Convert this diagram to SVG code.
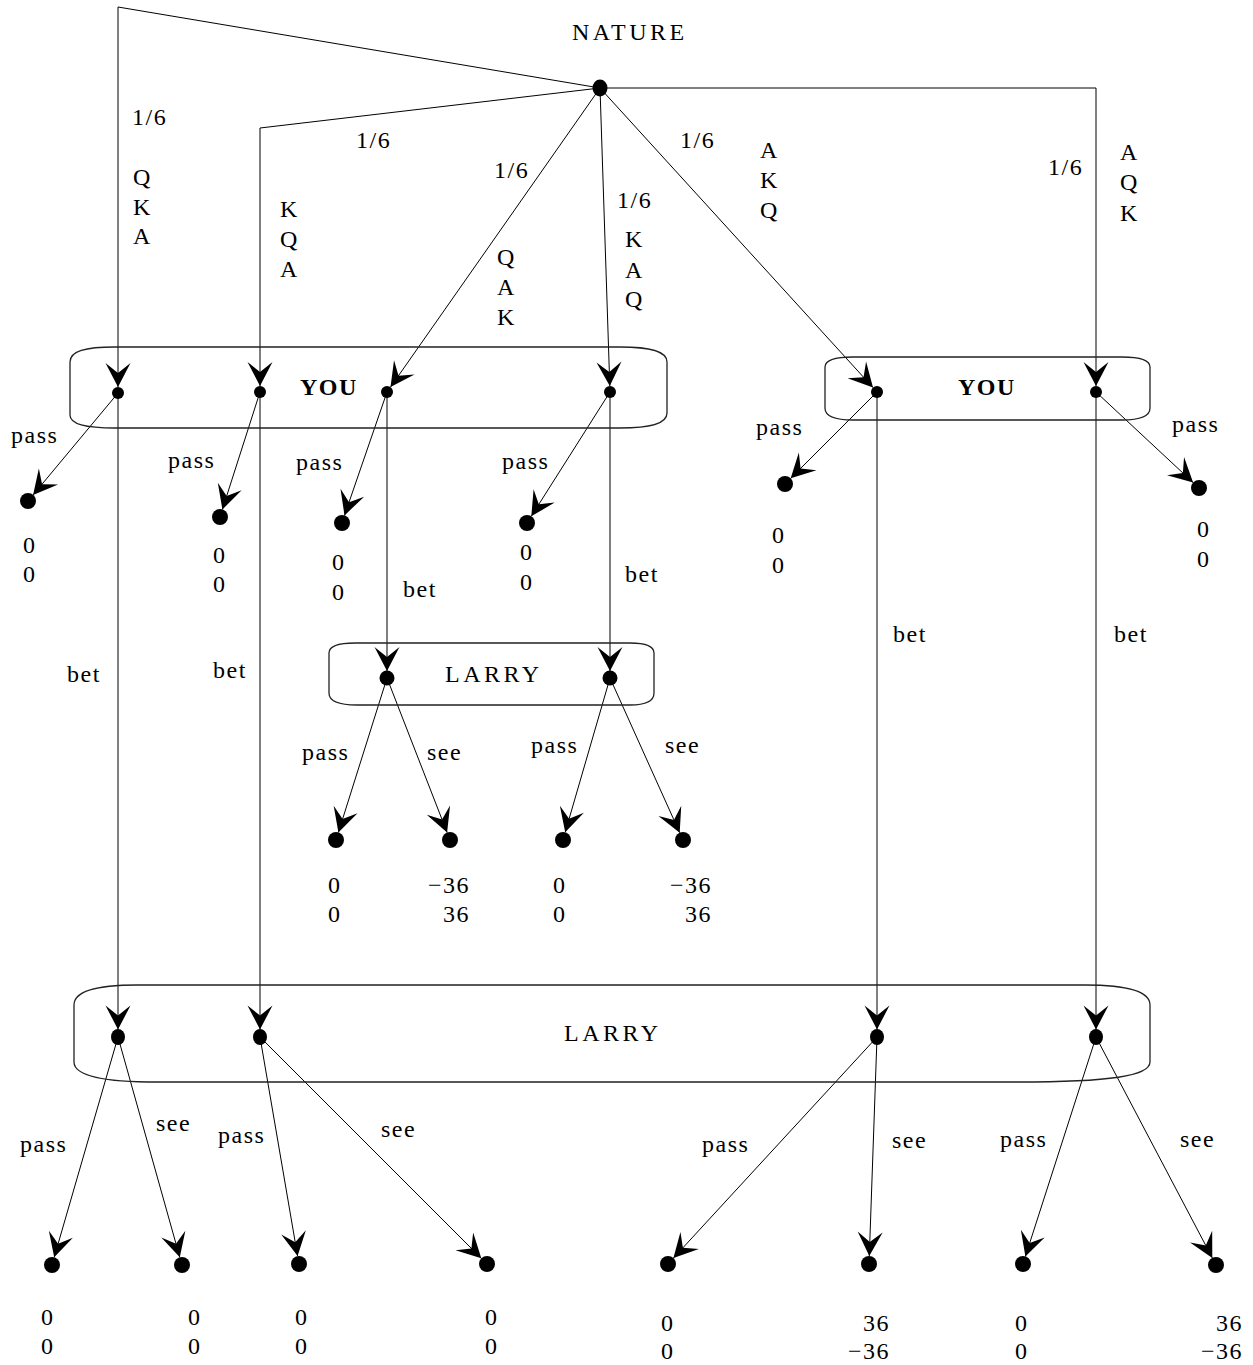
<svg xmlns="http://www.w3.org/2000/svg" width="1253" height="1365" viewBox="0 0 1253 1365">
<style>
  text { font-family: "Liberation Serif", "Times New Roman", serif; font-size: 24px; letter-spacing: 1.5px; fill: #000; }
  .b { font-weight: bold; }
  .w { letter-spacing: 3.5px; }
  .e { text-anchor: end; }
  .c { fill: none; stroke: #000; stroke-width: 1; marker-end: url(#arr); }
  .box { fill: none; stroke: #222; stroke-width: 1.3; }
  .dot { fill: #000; }
</style>
<defs>
  <marker id="arr" markerUnits="userSpaceOnUse" markerWidth="28" markerHeight="28" viewBox="-26 -14 28 28" refX="0" refY="0" orient="auto">
    <path d="M0,0 L-24,-12.5 L-14,0 L-24,12.5 Z" fill="#000"/>
  </marker>
</defs>
<rect width="1253" height="1365" fill="#fff"/>

<g id="connectors">
  <!-- nature moves -->
  <polyline class="c" points="600,88 118,7 118,387"/>
  <polyline class="c" points="600,88 260,128 260,386"/>
  <line class="c" x1="600" y1="88" x2="390.5" y2="387.1"/>
  <line class="c" x1="600" y1="88" x2="609.8" y2="386"/>
  <line class="c" x1="600" y1="88" x2="873" y2="387.6"/>
  <polyline class="c" points="600,88 1096,88 1096,386"/>
  <!-- YOU pass -->
  <line class="c" x1="118" y1="393" x2="33.1" y2="494.9"/>
  <line class="c" x1="260" y1="392" x2="222.4" y2="509.4"/>
  <line class="c" x1="387" y1="392" x2="344.5" y2="515.4"/>
  <line class="c" x1="610" y1="392" x2="531.3" y2="516.2"/>
  <line class="c" x1="877" y1="392" x2="790.7" y2="478.3"/>
  <line class="c" x1="1096" y1="392" x2="1193.1" y2="482.5"/>
  <!-- YOU bet -->
  <line class="c" x1="118" y1="393" x2="118" y2="1029.5"/>
  <line class="c" x1="260" y1="392" x2="260" y2="1029.5"/>
  <line class="c" x1="387" y1="392" x2="387" y2="671"/>
  <line class="c" x1="610" y1="392" x2="610" y2="671"/>
  <line class="c" x1="877" y1="392" x2="877" y2="1029.5"/>
  <line class="c" x1="1096" y1="392" x2="1096" y2="1029.5"/>
  <!-- middle LARRY -->
  <line class="c" x1="387" y1="678" x2="338.4" y2="832.4"/>
  <line class="c" x1="387" y1="678" x2="447.1" y2="832.5"/>
  <line class="c" x1="610" y1="678" x2="565.2" y2="832.3"/>
  <line class="c" x1="610" y1="678" x2="679.7" y2="832.7"/>
  <!-- bottom LARRY -->
  <line class="c" x1="118" y1="1037" x2="54.2" y2="1257.3"/>
  <line class="c" x1="118" y1="1037" x2="179.8" y2="1257.3"/>
  <line class="c" x1="260" y1="1037" x2="297.6" y2="1256.1"/>
  <line class="c" x1="260" y1="1037" x2="481.3" y2="1258.3"/>
  <line class="c" x1="877" y1="1037" x2="673.4" y2="1258.1"/>
  <line class="c" x1="877" y1="1037" x2="869.3" y2="1256"/>
  <line class="c" x1="1096" y1="1037" x2="1025.4" y2="1256.4"/>
  <line class="c" x1="1096" y1="1037" x2="1212.3" y2="1257.9"/>

  <g id="edge-labels">
    <text x="132" y="125">1/6</text>
    <text x="133" y="185">Q</text><text x="133" y="215">K</text><text x="133" y="244">A</text>
    <text x="356" y="148">1/6</text>
    <text x="280" y="217">K</text><text x="280" y="247">Q</text><text x="280" y="277">A</text>
    <text x="494" y="178">1/6</text>
    <text x="497" y="265">Q</text><text x="497" y="295">A</text><text x="497" y="325">K</text>
    <text x="617" y="208">1/6</text>
    <text x="625" y="247">K</text><text x="625" y="278">A</text><text x="625" y="307">Q</text>
    <text x="680" y="148">1/6</text>
    <text x="760" y="158">A</text><text x="760" y="188">K</text><text x="760" y="218">Q</text>
    <text x="1048" y="175">1/6</text>
    <text x="1120" y="160">A</text><text x="1120" y="190">Q</text><text x="1120" y="221">K</text>

    <text x="11" y="443">pass</text>
    <text x="168" y="468">pass</text>
    <text x="296" y="470">pass</text>
    <text x="502" y="469">pass</text>
    <text x="756" y="435">pass</text>
    <text x="1172" y="432">pass</text>

    <text x="67" y="682">bet</text>
    <text x="213" y="678">bet</text>
    <text x="403" y="597">bet</text>
    <text x="625" y="582">bet</text>
    <text x="893" y="642">bet</text>
    <text x="1114" y="642">bet</text>

    <text x="302" y="760">pass</text>
    <text x="427" y="760">see</text>
    <text x="531" y="753">pass</text>
    <text x="665" y="753">see</text>

    <text x="20" y="1152">pass</text>
    <text x="156" y="1131">see</text>
    <text x="218" y="1143">pass</text>
    <text x="381" y="1137">see</text>
    <text x="702" y="1152">pass</text>
    <text x="892" y="1148">see</text>
    <text x="1000" y="1147">pass</text>
    <text x="1180" y="1147">see</text>
  </g>
</g>

<g id="nature">
  <text class="w" x="572" y="40">NATURE</text>
  <ellipse class="dot" cx="600" cy="88" rx="7.5" ry="8.5"/>
</g>

<g id="you-set-1">
  <path class="box" d="M70,362 C70,351 85,347 115,347 L620,347 C650,347 667,351 667,362 L667,413 C667,424 650,428 620,428 L115,428 C85,428 70,424 70,415 Z"/>
  <text class="b" x="300" y="395">YOU</text>
  <circle class="dot" cx="118" cy="393" r="6"/>
  <circle class="dot" cx="260" cy="392" r="6"/>
  <circle class="dot" cx="387" cy="392" r="6"/>
  <circle class="dot" cx="610" cy="392" r="6"/>
</g>

<g id="you-set-2">
  <path class="box" d="M825,367 C825,360 835,357 853,357 L1122,357 C1140,357 1150,360 1150,367 L1150,408 C1150,416 1140,420 1122,420 L853,420 C835,420 825,416 825,408 Z"/>
  <text class="b" x="958" y="395">YOU</text>
  <circle class="dot" cx="877" cy="392" r="6"/>
  <circle class="dot" cx="1096" cy="392" r="6"/>
</g>

<g id="larry-set-1">
  <path class="box" d="M329,653 C329,646 338,643 355,643 L630,643 C646,643 654,646 654,653 L654,693 C654,701 646,705 630,705 L357,705 C338,705 329,701 329,693 Z"/>
  <text class="w" x="445" y="682">LARRY</text>
  <circle class="dot" cx="387" cy="678" r="7.5"/>
  <circle class="dot" cx="610" cy="678" r="7.5"/>
</g>

<g id="larry-set-2">
  <path class="box" d="M74,1005 C74,992 95,985 137,985 L1085,985 C1128,985 1150,992 1150,1005 L1150,1062 C1150,1076 1110,1082 1017,1082 L157,1082 C105,1082 74,1076 74,1062 Z"/>
  <text class="w" x="564" y="1041">LARRY</text>
  <ellipse class="dot" cx="118" cy="1037" rx="7" ry="8"/>
  <ellipse class="dot" cx="260" cy="1037" rx="7" ry="8"/>
  <ellipse class="dot" cx="877" cy="1037" rx="7" ry="8"/>
  <ellipse class="dot" cx="1096" cy="1037" rx="7" ry="8"/>
</g>

<g id="leaf-1"><circle class="dot" cx="28" cy="501" r="8"/><text x="23" y="553">0</text><text x="23" y="582">0</text></g>
<g id="leaf-2"><circle class="dot" cx="220" cy="517" r="8"/><text x="213" y="563">0</text><text x="213" y="592">0</text></g>
<g id="leaf-3"><circle class="dot" cx="342" cy="523" r="8"/><text x="332" y="570">0</text><text x="332" y="600">0</text></g>
<g id="leaf-4"><circle class="dot" cx="527" cy="523" r="8"/><text x="520" y="560">0</text><text x="520" y="590">0</text></g>
<g id="leaf-5"><circle class="dot" cx="785" cy="484" r="8"/><text x="772" y="543">0</text><text x="772" y="573">0</text></g>
<g id="leaf-6"><circle class="dot" cx="1199" cy="488" r="8"/><text x="1197" y="537">0</text><text x="1197" y="567">0</text></g>

<g id="leaf-7"><circle class="dot" cx="336" cy="840" r="8"/><text x="328" y="893">0</text><text x="328" y="922">0</text></g>
<g id="leaf-8"><circle class="dot" cx="450" cy="840" r="8"/><text class="e" x="470" y="893">−36</text><text class="e" x="470" y="922">36</text></g>
<g id="leaf-9"><circle class="dot" cx="563" cy="840" r="8"/><text x="553" y="893">0</text><text x="553" y="922">0</text></g>
<g id="leaf-10"><circle class="dot" cx="683" cy="840" r="8"/><text class="e" x="712" y="893">−36</text><text class="e" x="712" y="922">36</text></g>

<g id="leaf-11"><circle class="dot" cx="52" cy="1265" r="8"/><text x="41" y="1325">0</text><text x="41" y="1354">0</text></g>
<g id="leaf-12"><circle class="dot" cx="182" cy="1265" r="8"/><text x="188" y="1325">0</text><text x="188" y="1354">0</text></g>
<g id="leaf-13"><circle class="dot" cx="299" cy="1264" r="8"/><text x="295" y="1325">0</text><text x="295" y="1354">0</text></g>
<g id="leaf-14"><circle class="dot" cx="487" cy="1264" r="8"/><text x="485" y="1325">0</text><text x="485" y="1354">0</text></g>
<g id="leaf-15"><circle class="dot" cx="668" cy="1264" r="8"/><text x="661" y="1331">0</text><text x="661" y="1359">0</text></g>
<g id="leaf-16"><circle class="dot" cx="869" cy="1264" r="8"/><text class="e" x="890" y="1331">36</text><text class="e" x="890" y="1359">−36</text></g>
<g id="leaf-17"><circle class="dot" cx="1023" cy="1264" r="8"/><text x="1015" y="1331">0</text><text x="1015" y="1359">0</text></g>
<g id="leaf-18"><circle class="dot" cx="1216" cy="1265" r="8"/><text class="e" x="1243" y="1331">36</text><text class="e" x="1243" y="1359">−36</text></g>
</svg>
